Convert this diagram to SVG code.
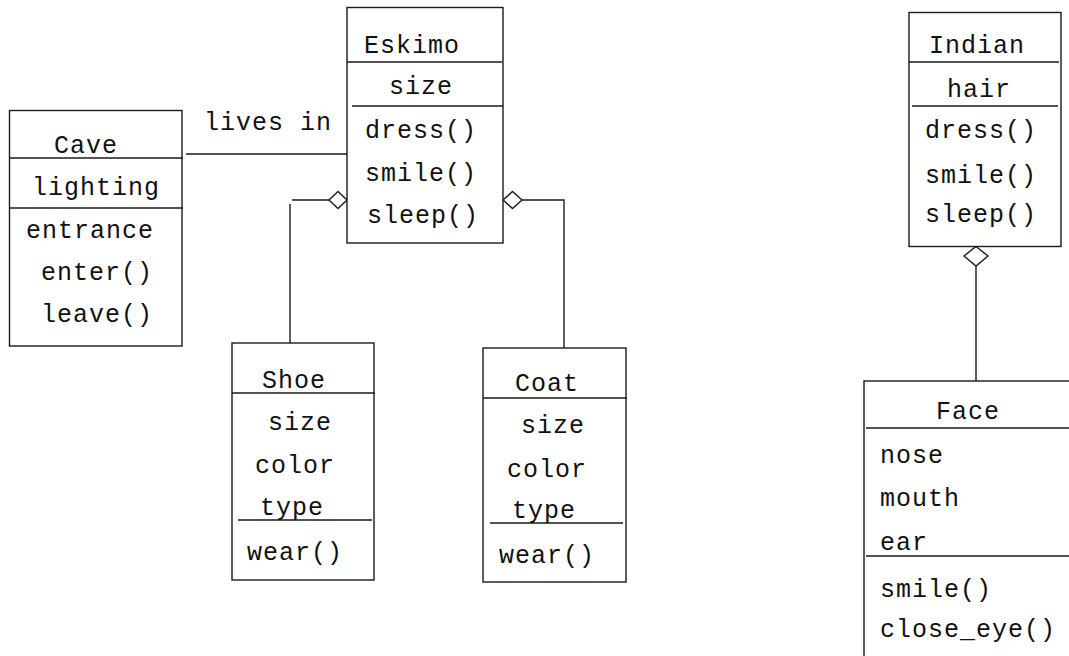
<svg xmlns="http://www.w3.org/2000/svg" width="1069" height="656" viewBox="0 0 1069 656">
  <style>
    .box { fill: #ffffff; stroke: #1a1a1a; stroke-width: 1.4; }
    .div { stroke: #1a1a1a; stroke-width: 1.4; fill: none; }
    .wire { stroke: #1a1a1a; stroke-width: 1.4; fill: none; }
    .agg { fill: #ffffff; stroke: #1a1a1a; stroke-width: 1.4; }
    text { font-family: "Liberation Mono", "Courier New", monospace; font-size: 25px; letter-spacing: 1px; fill: #111111; }
  </style>
  <rect width="1069" height="656" fill="#ffffff"/>

  <!-- connectors -->
  <g id="connectors">
    <!-- Cave lives in Eskimo -->
    <line class="wire" x1="186" y1="154" x2="347" y2="154"/>
    <text x="204" y="130">lives in</text>
    <!-- Eskimo aggregates Shoe -->
    <polyline class="wire" points="292,200 329,200"/>
    <line class="wire" x1="290" y1="204" x2="290" y2="343"/>
    <polygon class="agg" points="347,200 338,191.5 329,200 338,208.5"/>
    <!-- Eskimo aggregates Coat -->
    <polyline class="wire" points="522,200 564,200 564,348"/>
    <polygon class="agg" points="503,200 512.5,191.5 522,200 512.5,208.5"/>
    <!-- Indian aggregates Face -->
    <line class="wire" x1="976" y1="266" x2="976" y2="381"/>
    <polygon class="agg" points="976,246.5 988,256 976,266 964,256"/>
  </g>

  <!-- Cave -->
  <g id="cave">
    <rect class="box" x="9.5" y="110.5" width="172.5" height="235.5"/>
    <line class="div" x1="9.5" y1="158" x2="183" y2="158"/>
    <line class="div" x1="9.5" y1="208" x2="183" y2="208"/>
    <text x="54" y="153">Cave</text>
    <text x="32" y="195">lighting</text>
    <text x="26" y="238">entrance</text>
    <text x="41" y="280">enter()</text>
    <text x="41" y="322">leave()</text>
  </g>

  <!-- Eskimo -->
  <g id="eskimo">
    <rect class="box" x="347" y="7.5" width="156" height="235.5"/>
    <line class="div" x1="347" y1="62" x2="502" y2="62"/>
    <line class="div" x1="352" y1="106" x2="503" y2="106"/>
    <text x="364" y="53">Eskimo</text>
    <text x="389" y="94">size</text>
    <text x="365" y="138">dress()</text>
    <text x="365" y="181">smile()</text>
    <text x="367" y="223">sleep()</text>
  </g>

  <!-- Shoe -->
  <g id="shoe">
    <rect class="box" x="232" y="343" width="142" height="237"/>
    <line class="div" x1="232" y1="393" x2="375" y2="393"/>
    <line class="div" x1="238" y1="520" x2="372" y2="520"/>
    <text x="262" y="388">Shoe</text>
    <text x="268" y="430">size</text>
    <text x="255" y="473">color</text>
    <text x="260" y="515">type</text>
    <text x="247" y="560">wear()</text>
  </g>

  <!-- Coat -->
  <g id="coat">
    <rect class="box" x="483" y="348" width="143" height="234"/>
    <line class="div" x1="483" y1="398" x2="627" y2="398"/>
    <line class="div" x1="490" y1="523" x2="623" y2="523"/>
    <text x="515" y="391">Coat</text>
    <text x="521" y="433">size</text>
    <text x="507" y="477">color</text>
    <text x="512" y="518">type</text>
    <text x="499" y="563">wear()</text>
  </g>

  <!-- Indian -->
  <g id="indian">
    <rect class="box" x="909" y="12.5" width="152" height="234"/>
    <line class="div" x1="909" y1="62" x2="1059" y2="62"/>
    <line class="div" x1="912" y1="106" x2="1058" y2="106"/>
    <text x="929" y="53">Indian</text>
    <text x="947" y="97">hair</text>
    <text x="925" y="138">dress()</text>
    <text x="925" y="183">smile()</text>
    <text x="925" y="222">sleep()</text>
  </g>

  <!-- Face -->
  <g id="face">
    <rect class="box" x="864" y="381" width="220" height="300"/>
    <line class="div" x1="866" y1="428" x2="1069" y2="428"/>
    <line class="div" x1="866" y1="556" x2="1069" y2="556"/>
    <text x="936" y="419">Face</text>
    <text x="880" y="463">nose</text>
    <text x="880" y="506">mouth</text>
    <text x="880" y="550">ear</text>
    <text x="880" y="597">smile()</text>
    <text x="880" y="637">close_eye()</text>
  </g>
</svg>
